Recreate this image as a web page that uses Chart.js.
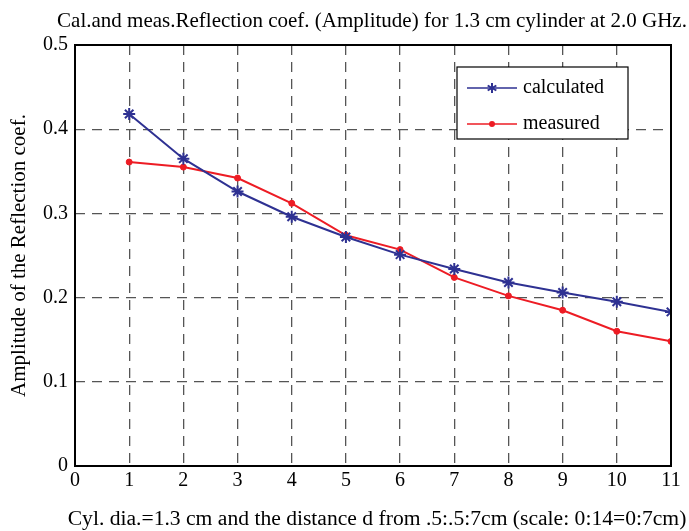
<!DOCTYPE html>
<html lang="en">
<head>
    <meta charset="UTF-8">
    <title>Reflection coefficient</title>
    <script src="https://cdn.jsdelivr.net/npm/chart.js"></script>
    <style>
        body {
            margin: 0;
            padding: 0;
            background: #fff;
        }
        .chart-box {
            width: 689px;
            height: 531px;
        }
    </style>
</head>
<body>
    <div class="chart-box">
        <canvas id="refl-chart" width="689" height="531"></canvas>
    </div>

    <script>
        // data
        const positions = [1, 2, 3, 4, 5, 6, 7, 8, 9, 10, 11];
        const calculated = [0.418, 0.365, 0.326, 0.296, 0.272, 0.251, 0.234, 0.218, 0.206, 0.195, 0.183];
        const measured = [0.361, 0.355, 0.342, 0.312, 0.274, 0.257, 0.224, 0.202, 0.185, 0.160, 0.148];
        const seriesNames = ['calculated', 'measured'];
        const xTicks = [0, 1, 2, 3, 4, 5, 6, 7, 8, 9, 10, 11];
        const yTicks = [0, 0.1, 0.2, 0.3, 0.4, 0.5];

        const chartTitle = 'Cal.and meas.Reflection coef. (Amplitude) for 1.3 cm cylinder at 2.0 GHz.';
        const xTitle = 'Cyl. dia.=1.3 cm and the distance d from .5:.5:7cm (scale: 0:14=0:7cm)';
        const yTitle = 'Amplitude of the Reflection coef.';

        const serif = 'Liberation Serif';
        const blue = '#2E3192';
        const red = '#ED1C24';

        // frame, legend box and the two long titles (chart.js squeezes scale titles to the axis length)
        const framePlugin = {
            id: 'frame',
            afterDraw(chart) {
                const ctx = chart.ctx;
                const a = chart.chartArea;
                ctx.save();
                ctx.strokeStyle = '#000';
                ctx.lineWidth = 2;
                ctx.strokeRect(a.left, a.top, a.right - a.left, a.bottom - a.top);

                ctx.fillStyle = '#000';
                ctx.textAlign = 'center';
                ctx.textBaseline = 'alphabetic';
                ctx.font = '21px ' + serif;
                ctx.fillText(chartTitle, 372, 27);
                ctx.font = '21.6px ' + serif;
                ctx.fillText(xTitle, 377, 525);

                // legend
                ctx.textAlign = 'left';
                const bx = 457, by = 67, bw = 171, bh = 72;
                ctx.fillStyle = '#fff';
                ctx.fillRect(bx, by, bw, bh);
                ctx.lineWidth = 1.2;
                ctx.strokeRect(bx, by, bw, bh);
                chart.data.datasets.forEach((ds, i) => {
                    const y = by + 21 + i * 36;
                    ctx.strokeStyle = ds.borderColor;
                    ctx.lineWidth = 1.5;
                    ctx.beginPath();
                    ctx.moveTo(bx + 10, y);
                    ctx.lineTo(bx + 60, y);
                    ctx.stroke();
                    if (ds.pointStyle === 'star') {
                        ctx.lineWidth = 2;
                        ctx.beginPath();
                        const cx = bx + 35, r = 5;
                        for (let k = 0; k < 3; k++) {
                            const ang = Math.PI / 2 + k * Math.PI / 3;
                            ctx.moveTo(cx + r * Math.cos(ang), y + r * Math.sin(ang));
                            ctx.lineTo(cx - r * Math.cos(ang), y - r * Math.sin(ang));
                        }
                        ctx.stroke();
                    } else {
                        ctx.fillStyle = ds.borderColor;
                        ctx.beginPath();
                        ctx.arc(bx + 35, y, 3, 0, Math.PI * 2);
                        ctx.fill();
                    }
                    ctx.fillStyle = '#000';
                    ctx.font = '20px ' + serif;
                    ctx.textBaseline = 'middle';
                    ctx.fillText(ds.label, bx + 66, y);
                });
                ctx.restore();
            }
        };

        const ctx = document.getElementById('refl-chart').getContext('2d');
        const reflChart = new Chart(ctx, {
            type: 'line',
            data: {
                labels: positions,
                datasets: [{
                    label: seriesNames[0],
                    data: positions.map((x, i) => ({ x: x, y: calculated[i] })),
                    borderColor: blue,
                    backgroundColor: blue,
                    borderWidth: 2,
                    pointStyle: 'star',
                    pointRadius: 6,
                    pointBorderWidth: 2,
                    tension: 0,
                }, {
                    label: seriesNames[1],
                    data: positions.map((x, i) => ({ x: x, y: measured[i] })),
                    borderColor: red,
                    backgroundColor: red,
                    borderWidth: 2,
                    pointStyle: 'circle',
                    pointRadius: 3,
                    pointBorderWidth: 1,
                    tension: 0,
                }],
            },
            options: {
                responsive: false,
                animation: false,
                layout: { padding: { left: 0, right: 18, top: 45, bottom: 0 } },
                plugins: {
                    legend: { display: false },
                    tooltip: { enabled: false },
                },
                scales: {
                    x: {
                        type: 'linear',
                        min: 0,
                        max: 11,
                        afterBuildTicks: s => { s.ticks = xTicks.map(v => ({ value: v })); },
                        afterFit: s => { s.height = 65; },
                        grid: { color: '#555', lineWidth: 1.3, drawTicks: false },
                        border: { display: false, dash: [10, 7] },
                        ticks: { color: '#000', font: { family: serif, size: 20 }, padding: 3 },
                    },
                    y: {
                        min: 0,
                        max: 0.5,
                        afterBuildTicks: s => { s.ticks = yTicks.map(v => ({ value: v })); },
                        afterFit: s => { s.width = 75; },
                        grid: { color: '#555', lineWidth: 1.3, drawTicks: false },
                        border: { display: false, dash: [10, 7] },
                        ticks: {
                            color: '#000',
                            font: { family: serif, size: 20 },
                            padding: 7,
                        },
                        title: {
                            display: true,
                            text: yTitle,
                            color: '#000',
                            font: { family: serif, size: 21 },
                            padding: { top: 7, bottom: 0 },
                        },
                    },
                },
            },
            plugins: [framePlugin],
        });
    </script>
</body>
</html>
